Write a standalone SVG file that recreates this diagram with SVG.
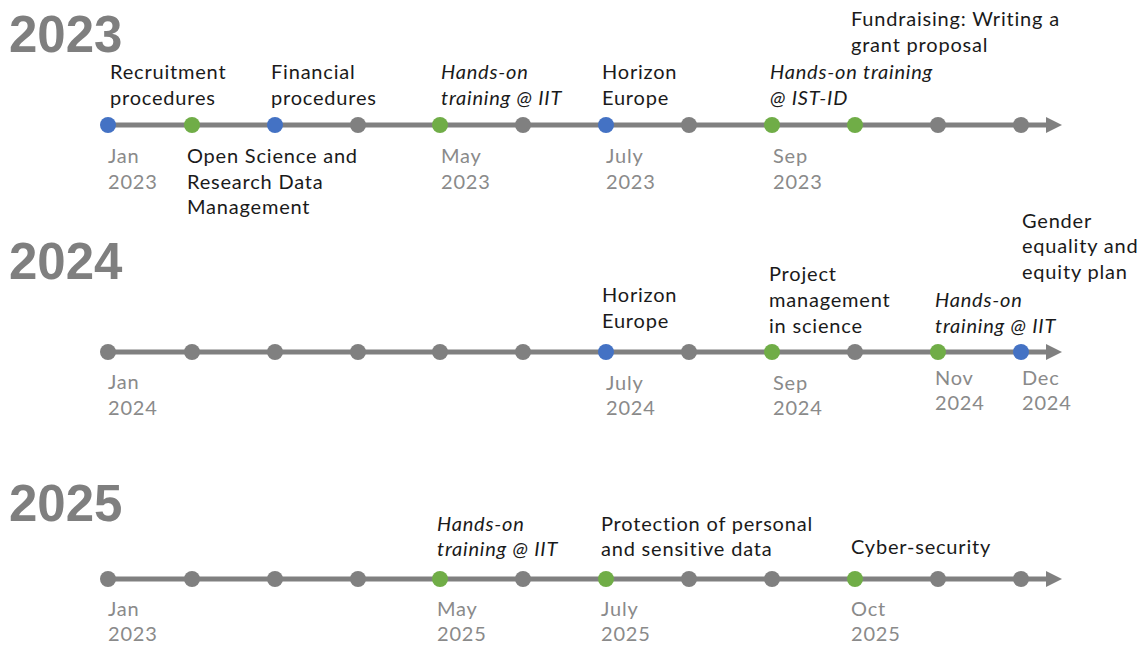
<svg xmlns="http://www.w3.org/2000/svg" width="1148" height="648" viewBox="0 0 1148 648">
<defs>
<style>
.yr{font-family:"Liberation Sans",Arial,sans-serif;font-weight:bold;font-size:51px;fill:#7f7f7f}
.lb{font-family:Lato,"Open Sans",sans-serif;font-size:20px;letter-spacing:0.8px;fill:#1a1a1a}
.it{font-style:italic}
.dt{font-family:Lato,"Open Sans",sans-serif;font-size:20px;letter-spacing:0.8px;fill:#8a8a8a}
.ax{stroke:#808080;stroke-width:5;fill:none}
.g{fill:#808080}
.b{fill:#4472c4}
.gr{fill:#70ad47}
</style>
<marker id="ah" viewBox="0 0 10 10" refX="0" refY="5" markerWidth="4" markerHeight="3.2" orient="auto" markerUnits="strokeWidth">
<path d="M0,0 L10,5 L0,10 z" fill="#808080"/>
</marker>
</defs>
<rect width="1148" height="648" fill="#ffffff"/>

<g id="connectors">
<line class="ax" x1="108" y1="125" x2="1046" y2="125" marker-end="url(#ah)"/>
<line class="ax" x1="108" y1="352" x2="1046" y2="352" marker-end="url(#ah)"/>
<line class="ax" x1="108" y1="579" x2="1046" y2="579" marker-end="url(#ah)"/>
</g>

<g id="row2023">
<text class="yr" x="9" y="52">2023</text>
<g id="r1-dots">
<circle class="b" cx="108" cy="125" r="8"/>
<circle class="gr" cx="192" cy="125" r="8"/>
<circle class="b" cx="275" cy="125" r="8"/>
<circle class="g" cx="358" cy="125" r="8"/>
<circle class="gr" cx="440" cy="125" r="8"/>
<circle class="g" cx="523" cy="125" r="8"/>
<circle class="b" cx="606" cy="125" r="8"/>
<circle class="g" cx="689" cy="125" r="8"/>
<circle class="gr" cx="772" cy="125" r="8"/>
<circle class="gr" cx="855" cy="125" r="8"/>
<circle class="g" cx="938" cy="125" r="8"/>
<circle class="g" cx="1021" cy="125" r="8"/>
</g>
<g id="n-recruitment"><text class="lb" x="110" y="79">Recruitment<tspan x="110" y="105">procedures</tspan></text></g>
<g id="n-financial"><text class="lb" x="271" y="79">Financial<tspan x="271" y="105">procedures</tspan></text></g>
<g id="n-handson-2023"><text class="lb it" x="441" y="79">Hands-on<tspan x="441" y="105">training @ IIT</tspan></text></g>
<g id="n-horizon-2023"><text class="lb" x="602" y="79">Horizon<tspan x="602" y="105">Europe</tspan></text></g>
<g id="n-handson-istid"><text class="lb it" x="770" y="79">Hands-on training<tspan x="770" y="105">@ IST-ID</tspan></text></g>
<g id="n-fundraising"><text class="lb" x="851" y="26">Fundraising: Writing a<tspan x="851" y="52">grant proposal</tspan></text></g>
<g id="n-openscience"><text class="lb" x="187" y="163">Open Science and<tspan x="187" y="189">Research Data</tspan><tspan x="187" y="214">Management</tspan></text></g>
<text class="dt" x="108" y="163">Jan<tspan x="108" y="189">2023</tspan></text>
<text class="dt" x="441" y="163">May<tspan x="441" y="189">2023</tspan></text>
<text class="dt" x="606" y="163">July<tspan x="606" y="189">2023</tspan></text>
<text class="dt" x="773" y="163">Sep<tspan x="773" y="189">2023</tspan></text>
</g>

<g id="row2024">
<text class="yr" x="9" y="279">2024</text>
<g id="r2-dots">
<circle class="g" cx="108" cy="352" r="8"/>
<circle class="g" cx="192" cy="352" r="8"/>
<circle class="g" cx="275" cy="352" r="8"/>
<circle class="g" cx="358" cy="352" r="8"/>
<circle class="g" cx="440" cy="352" r="8"/>
<circle class="g" cx="523" cy="352" r="8"/>
<circle class="b" cx="606" cy="352" r="8"/>
<circle class="g" cx="689" cy="352" r="8"/>
<circle class="gr" cx="772" cy="352" r="8"/>
<circle class="g" cx="855" cy="352" r="8"/>
<circle class="gr" cx="938" cy="352" r="8"/>
<circle class="b" cx="1021" cy="352" r="8"/>
</g>
<g id="n-horizon-2024"><text class="lb" x="602" y="302">Horizon<tspan x="602" y="328">Europe</tspan></text></g>
<g id="n-project"><text class="lb" x="769" y="281">Project<tspan x="769" y="307">management</tspan><tspan x="769" y="333">in science</tspan></text></g>
<g id="n-handson-2024"><text class="lb it" x="935" y="307">Hands-on<tspan x="935" y="333">training @ IIT</tspan></text></g>
<g id="n-gender"><text class="lb" x="1022" y="228">Gender<tspan x="1022" y="253">equality and</tspan><tspan x="1022" y="279">equity plan</tspan></text></g>
<text class="dt" x="108" y="389">Jan<tspan x="108" y="415">2024</tspan></text>
<text class="dt" x="606" y="390">July<tspan x="606" y="415">2024</tspan></text>
<text class="dt" x="773" y="390">Sep<tspan x="773" y="415">2024</tspan></text>
<text class="dt" x="935" y="385">Nov<tspan x="935" y="410">2024</tspan></text>
<text class="dt" x="1022" y="385">Dec<tspan x="1022" y="410">2024</tspan></text>
</g>

<g id="row2025">
<text class="yr" x="9" y="521">2025</text>
<g id="r3-dots">
<circle class="g" cx="108" cy="579" r="8"/>
<circle class="g" cx="192" cy="579" r="8"/>
<circle class="g" cx="275" cy="579" r="8"/>
<circle class="g" cx="358" cy="579" r="8"/>
<circle class="gr" cx="440" cy="579" r="8"/>
<circle class="g" cx="523" cy="579" r="8"/>
<circle class="gr" cx="606" cy="579" r="8"/>
<circle class="g" cx="689" cy="579" r="8"/>
<circle class="g" cx="772" cy="579" r="8"/>
<circle class="gr" cx="855" cy="579" r="8"/>
<circle class="g" cx="938" cy="579" r="8"/>
<circle class="g" cx="1021" cy="579" r="8"/>
</g>
<g id="n-handson-2025"><text class="lb it" x="437" y="531">Hands-on<tspan x="437" y="556">training @ IIT</tspan></text></g>
<g id="n-protection"><text class="lb" x="601" y="531">Protection of personal<tspan x="601" y="556">and sensitive data</tspan></text></g>
<g id="n-cyber"><text class="lb" x="851" y="554">Cyber-security</text></g>
<text class="dt" x="108" y="616">Jan<tspan x="108" y="641">2023</tspan></text>
<text class="dt" x="437" y="616">May<tspan x="437" y="641">2025</tspan></text>
<text class="dt" x="601" y="616">July<tspan x="601" y="641">2025</tspan></text>
<text class="dt" x="851" y="616">Oct<tspan x="851" y="641">2025</tspan></text>
</g>
</svg>
